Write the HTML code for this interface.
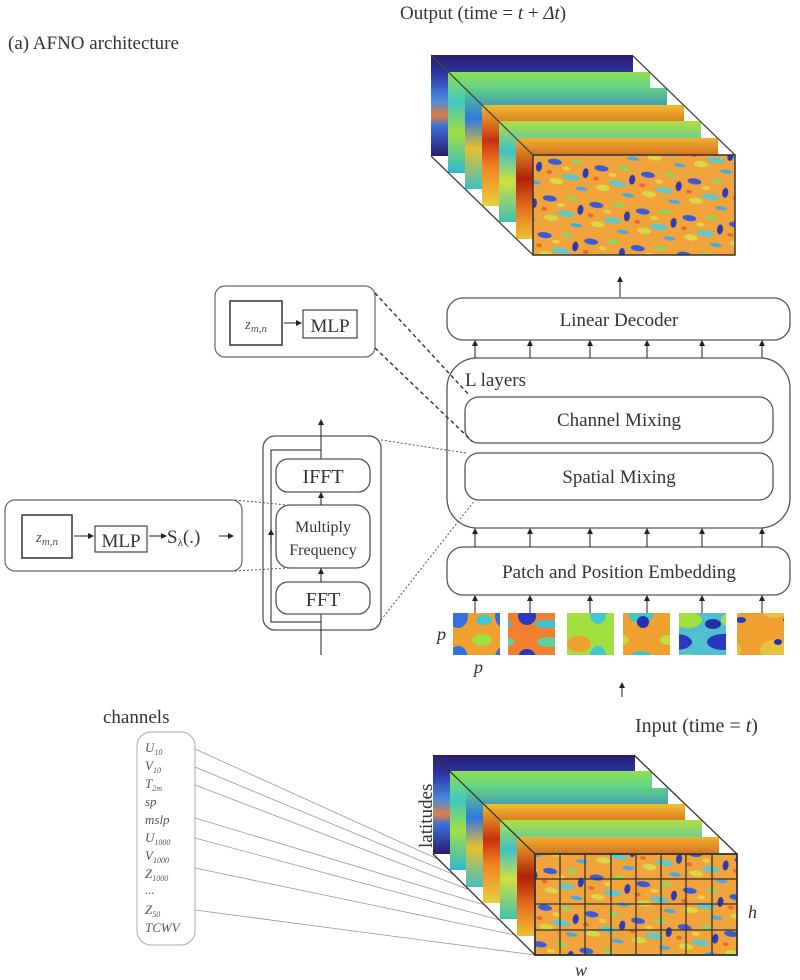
<!DOCTYPE html>
<html><head><meta charset="utf-8"><style>
html,body{margin:0;padding:0;background:#fff;}
svg{display:block;font-family:"Liberation Serif",serif;}
</style></head><body>
<svg width="800" height="980" viewBox="0 0 800 980" xmlns="http://www.w3.org/2000/svg">
<defs>
<marker id="ar" markerWidth="6" markerHeight="6" refX="5" refY="3" orient="auto" markerUnits="userSpaceOnUse"><path d="M0,0 L6,3 L0,6 z" fill="#222"/></marker>
<linearGradient id="gNavy" x1="0" y1="0" x2="0" y2="1"><stop offset="0" stop-color="#2a1b6e"/><stop offset=".2" stop-color="#2c3aa8"/><stop offset=".45" stop-color="#4a8ae0"/><stop offset=".6" stop-color="#e08040"/><stop offset=".7" stop-color="#3a70d8"/><stop offset="1" stop-color="#2a1b6e"/></linearGradient>
<linearGradient id="gGreen" x1="0" y1="0" x2="0" y2="1"><stop offset="0" stop-color="#8ee050"/><stop offset=".3" stop-color="#40c8c0"/><stop offset=".6" stop-color="#a0e040"/><stop offset="1" stop-color="#30b8d0"/></linearGradient>
<linearGradient id="gCyan" x1="0" y1="0" x2="0" y2="1"><stop offset="0" stop-color="#60d080"/><stop offset=".3" stop-color="#3078e0"/><stop offset=".6" stop-color="#e8c030"/><stop offset="1" stop-color="#40c0c0"/></linearGradient>
<linearGradient id="gOrange" x1="0" y1="0" x2="0" y2="1"><stop offset="0" stop-color="#f0c030"/><stop offset=".35" stop-color="#c83010"/><stop offset=".6" stop-color="#f08020"/><stop offset="1" stop-color="#e8d040"/></linearGradient>
<linearGradient id="gYG" x1="0" y1="0" x2="0" y2="1"><stop offset="0" stop-color="#b0e040"/><stop offset=".3" stop-color="#40c0c8"/><stop offset=".6" stop-color="#d0e040"/><stop offset="1" stop-color="#40c0b0"/></linearGradient>
<linearGradient id="gRed" x1="0" y1="0" x2="0" y2="1"><stop offset="0" stop-color="#f0b030"/><stop offset=".4" stop-color="#b02008"/><stop offset=".7" stop-color="#e87020"/><stop offset="1" stop-color="#f0c030"/></linearGradient>
<pattern id="pFront" width="47" height="37" patternUnits="userSpaceOnUse" patternTransform="rotate(8)">
<rect width="47" height="37" fill="#f2a43c"/>
<ellipse cx="8" cy="9" rx="7" ry="3" fill="#3a5ad8"/>
<ellipse cx="30" cy="6" rx="6" ry="2" fill="#8ad860"/>
<ellipse cx="26" cy="22" rx="9" ry="3" fill="#60c8c8"/>
<ellipse cx="40" cy="16" rx="3" ry="5" fill="#2a3ab8"/>
<ellipse cx="12" cy="28" rx="7" ry="3" fill="#d8d848"/>
<ellipse cx="20" cy="14" rx="4" ry="2" fill="#ecd04a"/>
<ellipse cx="38" cy="32" rx="6" ry="2" fill="#4aa8e0"/>
<ellipse cx="4" cy="20" rx="3" ry="2" fill="#e86a28"/>
</pattern>
<pattern id="p1" width="47" height="42" patternUnits="userSpaceOnUse"><rect width="47" height="42" fill="#f0a030"/><ellipse cx="12" cy="10" rx="10" ry="6" fill="#a0e040"/><ellipse cx="35" cy="28" rx="10" ry="12" fill="#3070e0"/><ellipse cx="14" cy="32" rx="8" ry="5" fill="#40c8d0"/></pattern>
<pattern id="p2" width="47" height="42" patternUnits="userSpaceOnUse"><rect width="47" height="42" fill="#f08030"/><ellipse cx="10" cy="28" rx="9" ry="9" fill="#2838c0"/><ellipse cx="32" cy="12" rx="12" ry="5" fill="#60d0a0"/><ellipse cx="30" cy="36" rx="12" ry="4" fill="#40c0d0"/></pattern>
<pattern id="p3" width="47" height="42" patternUnits="userSpaceOnUse"><rect width="47" height="42" fill="#a0e040"/><ellipse cx="15" cy="14" rx="12" ry="8" fill="#f0a030"/><ellipse cx="34" cy="26" rx="8" ry="10" fill="#40c8d0"/></pattern>
<pattern id="p4" width="47" height="42" patternUnits="userSpaceOnUse"><rect width="47" height="42" fill="#f0a030"/><ellipse cx="30" cy="28" rx="12" ry="7" fill="#40c8c0"/><ellipse cx="32" cy="34" rx="6" ry="6" fill="#2030b0"/><ellipse cx="10" cy="10" rx="8" ry="5" fill="#c0e040"/></pattern>
<pattern id="p5" width="47" height="42" patternUnits="userSpaceOnUse"><rect width="47" height="42" fill="#50c0d0"/><ellipse cx="18" cy="12" rx="16" ry="8" fill="#2838c0"/><ellipse cx="30" cy="32" rx="14" ry="8" fill="#a0e040"/><ellipse cx="8" cy="36" rx="8" ry="5" fill="#2030a0"/></pattern>
<pattern id="p6" width="47" height="42" patternUnits="userSpaceOnUse"><rect width="47" height="42" fill="#f0a030"/><ellipse cx="22" cy="20" rx="14" ry="10" fill="#e8c040"/><ellipse cx="26" cy="12" rx="4" ry="3" fill="#2030b0"/><ellipse cx="36" cy="32" rx="5" ry="3" fill="#2838c0"/></pattern>
</defs>

<text x="400" y="19" font-size="19" fill="#333">Output (time = <tspan font-style="italic">t</tspan> + <tspan font-style="italic">Δt</tspan>)</text>
<text x="8" y="49" font-size="19" fill="#333">(a) AFNO architecture</text>

<!-- OUTPUT CUBE -->
<rect x="431" y="55" width="202" height="101" fill="url(#gNavy)"/>
<rect x="448" y="72" width="202" height="101" fill="url(#gGreen)"/>
<rect x="465" y="88" width="202" height="101" fill="url(#gCyan)"/>
<rect x="482" y="105" width="202" height="101" fill="url(#gOrange)"/>
<rect x="499" y="121" width="202" height="101" fill="url(#gYG)"/>
<rect x="516" y="138" width="202" height="101" fill="url(#gRed)"/>
<rect x="533" y="155" width="202" height="100" fill="url(#pFront)" stroke="#333" stroke-width="1.5"/>
<g stroke="#444" stroke-width="1.3"><line x1="431" y1="55" x2="533" y2="155"/><line x1="431" y1="156" x2="533" y2="255"/><line x1="632" y1="55" x2="735" y2="155"/></g>

<line x1="620" y1="297" x2="620" y2="277" stroke="#222" marker-end="url(#ar)"/>

<!-- main stack -->
<g fill="#fff" stroke="#555" stroke-width="1.3">
<rect x="447" y="298" width="343" height="42" rx="16"/>
<rect x="447" y="358" width="343" height="170" rx="30"/>
<rect x="465" y="397" width="308" height="46" rx="14"/>
<rect x="465" y="453" width="308" height="47" rx="14"/>
<rect x="447" y="547" width="343" height="48" rx="16"/>
</g>
<g font-size="19" fill="#333" text-anchor="middle">
<text x="619" y="326">Linear Decoder</text>
<text x="619" y="426">Channel Mixing</text>
<text x="619" y="483">Spatial Mixing</text>
<text x="619" y="578">Patch and Position Embedding</text>
</g>
<text x="465" y="386" font-size="19" fill="#333">L layers</text>
<g stroke="#222" stroke-width="1" marker-end="url(#ar)">
<line x1="475" y1="358" x2="475" y2="341"/><line x1="530" y1="358" x2="530" y2="341"/><line x1="590" y1="358" x2="590" y2="341"/><line x1="647" y1="358" x2="647" y2="341"/><line x1="702" y1="358" x2="702" y2="341"/><line x1="762" y1="358" x2="762" y2="341"/>
<line x1="475" y1="547" x2="475" y2="529"/><line x1="530" y1="547" x2="530" y2="529"/><line x1="590" y1="547" x2="590" y2="529"/><line x1="647" y1="547" x2="647" y2="529"/><line x1="702" y1="547" x2="702" y2="529"/><line x1="762" y1="547" x2="762" y2="529"/>
<line x1="475" y1="613" x2="475" y2="596"/><line x1="530" y1="613" x2="530" y2="596"/><line x1="590" y1="613" x2="590" y2="596"/><line x1="647" y1="613" x2="647" y2="596"/><line x1="702" y1="613" x2="702" y2="596"/><line x1="762" y1="613" x2="762" y2="596"/>
<line x1="622" y1="697" x2="622" y2="683"/>
</g>
<rect x="453" y="613" width="47" height="42" fill="url(#p1)"/>
<rect x="508" y="613" width="47" height="42" fill="url(#p2)"/>
<rect x="567" y="613" width="47" height="42" fill="url(#p3)"/>
<rect x="623" y="613" width="47" height="42" fill="url(#p4)"/>
<rect x="679" y="613" width="47" height="42" fill="url(#p5)"/>
<rect x="737" y="613" width="47" height="42" fill="url(#p6)"/>
<text x="437" y="640" font-size="18" font-style="italic" fill="#333">p</text>
<text x="474" y="673" font-size="18" font-style="italic" fill="#333">p</text>

<!-- top-left MLP box -->
<rect x="215" y="286" width="160" height="71" rx="10" fill="#fff" stroke="#666" stroke-width="1.2"/>
<rect x="230" y="301" width="52" height="44" fill="#fff" stroke="#333" stroke-width="1.5"/>
<text x="256" y="329" font-size="15" font-style="italic" fill="#555" text-anchor="middle">z<tspan font-size="11" dy="3">m,n</tspan></text>
<line x1="284" y1="323" x2="301" y2="323" stroke="#222" marker-end="url(#ar)"/>
<rect x="303" y="310" width="54" height="28" fill="#fff" stroke="#444" stroke-width="1.2"/>
<text x="330" y="332" font-size="19" fill="#333" text-anchor="middle">MLP</text>
<line x1="375" y1="293" x2="470" y2="396" stroke="#333" stroke-width="1.4" stroke-dasharray="4,3"/>
<line x1="375" y1="348" x2="472" y2="441" stroke="#333" stroke-width="1.4" stroke-dasharray="4,3"/>

<!-- FFT group -->
<rect x="263" y="436" width="118" height="194" rx="12" fill="#fff" stroke="#555" stroke-width="1.3"/>
<polyline points="321,450 271,450 271,622 321,622" fill="none" stroke="#444" stroke-width="1.2"/>
<line x1="321" y1="655" x2="321" y2="420" stroke="#222" marker-end="url(#ar)"/>
<line x1="271" y1="545" x2="271" y2="530" stroke="#222" marker-end="url(#ar)"/>
<g fill="#fff" stroke="#555" stroke-width="1.3">
<rect x="276" y="459" width="94" height="33" rx="12"/>
<rect x="276" y="505" width="94" height="63" rx="14"/>
<rect x="276" y="582" width="94" height="32" rx="12"/>
</g>
<line x1="321" y1="505" x2="321" y2="493" stroke="#222" marker-end="url(#ar)"/>
<line x1="321" y1="582" x2="321" y2="569" stroke="#222" marker-end="url(#ar)"/>
<g fill="#333" text-anchor="middle">
<text x="323" y="483" font-size="20">IFFT</text>
<text x="323" y="532" font-size="16">Multiply</text>
<text x="323" y="555" font-size="16">Frequency</text>
<text x="323" y="606" font-size="20">FFT</text>
</g>
<line x1="381" y1="440" x2="466" y2="453" stroke="#555" stroke-dasharray="2,2"/>
<line x1="381" y1="620" x2="475" y2="500" stroke="#555" stroke-dasharray="2,2"/>

<!-- left S box -->
<rect x="5" y="500" width="237" height="71" rx="10" fill="#fff" stroke="#666" stroke-width="1.2"/>
<rect x="22" y="515" width="50" height="43" fill="#fff" stroke="#333" stroke-width="1.5"/>
<text x="47" y="542" font-size="15" font-style="italic" fill="#555" text-anchor="middle">z<tspan font-size="11" dy="3">m,n</tspan></text>
<line x1="74" y1="536" x2="93" y2="536" stroke="#222" marker-end="url(#ar)"/>
<rect x="95" y="526" width="52" height="26" fill="#fff" stroke="#444" stroke-width="1.2"/>
<text x="121" y="547" font-size="19" fill="#333" text-anchor="middle">MLP</text>
<line x1="149" y1="536" x2="166" y2="536" stroke="#222" marker-end="url(#ar)"/>
<text x="167" y="543" font-size="19" fill="#333">S<tspan font-size="11" dy="3">λ</tspan><tspan dy="-3">(.)</tspan></text>
<line x1="219" y1="536" x2="233" y2="536" stroke="#222" marker-end="url(#ar)"/>
<line x1="235" y1="500" x2="287" y2="505" stroke="#555" stroke-dasharray="2,2"/>
<line x1="235" y1="571" x2="287" y2="568" stroke="#555" stroke-dasharray="2,2"/>

<!-- Input -->
<text x="635" y="732" font-size="20" fill="#333">Input (time = <tspan font-style="italic">t</tspan>)</text>
<text x="483" y="778" font-size="19" fill="#333">longitudes</text>
<text x="0" y="0" font-size="19" fill="#333" transform="translate(432,848) rotate(-90)">latitudes</text>
<text x="748" y="918" font-size="18" font-style="italic" fill="#333">h</text>
<text x="575" y="976" font-size="18" font-style="italic" fill="#333">w</text>

<text x="103" y="723" font-size="19" fill="#333">channels</text>
<rect x="137" y="732" width="58" height="213" rx="14" fill="#fff" stroke="#aaa"/>
<g font-size="13" font-style="italic" fill="#555">
<text x="145" y="752">U<tspan font-size="8" dy="3">10</tspan></text>
<text x="145" y="770">V<tspan font-size="8" dy="3">10</tspan></text>
<text x="145" y="788">T<tspan font-size="8" dy="3">2m</tspan></text>
<text x="145" y="806">sp</text>
<text x="145" y="824">mslp</text>
<text x="145" y="842">U<tspan font-size="8" dy="3">1000</tspan></text>
<text x="145" y="860">V<tspan font-size="8" dy="3">1000</tspan></text>
<text x="145" y="878">Z<tspan font-size="8" dy="3">1000</tspan></text>
<text x="145" y="894">...</text>
<text x="145" y="914">Z<tspan font-size="8" dy="3">50</tspan></text>
<text x="145" y="932">TCWV</text>
</g>
<g stroke="#999" stroke-width="0.8">
<line x1="195" y1="749" x2="440" y2="860"/>
<line x1="195" y1="767" x2="455" y2="875"/>
<line x1="195" y1="785" x2="470" y2="890"/>
<line x1="195" y1="818" x2="485" y2="905"/>
<line x1="195" y1="838" x2="500" y2="920"/>
<line x1="195" y1="868" x2="515" y2="935"/>
<line x1="195" y1="910" x2="535" y2="955"/>
</g>

<rect x="433" y="755" width="202" height="99" fill="url(#gNavy)"/>
<rect x="450" y="771" width="202" height="99" fill="url(#gGreen)"/>
<rect x="466" y="788" width="202" height="99" fill="url(#gCyan)"/>
<rect x="483" y="804" width="202" height="99" fill="url(#gOrange)"/>
<rect x="500" y="820" width="202" height="99" fill="url(#gYG)"/>
<rect x="517" y="837" width="202" height="99" fill="url(#gRed)"/>
<rect x="535" y="854" width="202" height="101" fill="url(#pFront)"/>
<g stroke="#333" stroke-width="1.3" fill="none">
<line x1="433" y1="755" x2="535" y2="854"/>
<line x1="433" y1="854" x2="535" y2="955"/>
<line x1="634" y1="755" x2="737" y2="854"/>
<rect x="535" y="854" width="202" height="101" stroke-width="1.8"/>
<line x1="535" y1="879" x2="737" y2="879"/><line x1="535" y1="904" x2="737" y2="904"/><line x1="535" y1="930" x2="737" y2="930"/>
<line x1="560" y1="854" x2="560" y2="955"/><line x1="585" y1="854" x2="585" y2="955"/><line x1="611" y1="854" x2="611" y2="955"/><line x1="636" y1="854" x2="636" y2="955"/><line x1="661" y1="854" x2="661" y2="955"/><line x1="686" y1="854" x2="686" y2="955"/><line x1="712" y1="854" x2="712" y2="955"/>
</g>
</svg>
</body></html>
